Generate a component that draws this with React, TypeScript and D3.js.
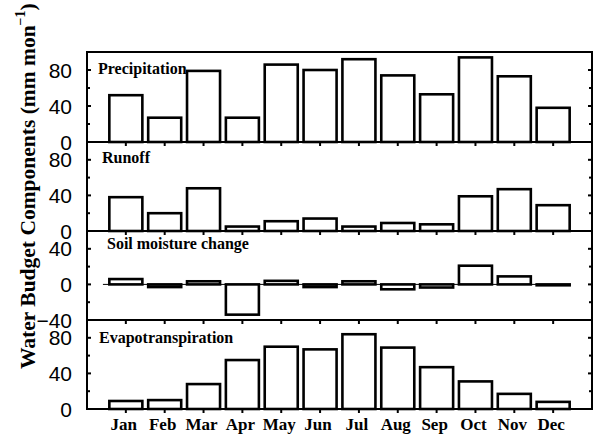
import React from "react";
import * as d3 from "d3";

const months = ["Jan", "Feb", "Mar", "Apr", "May", "Jun", "Jul", "Aug", "Sep", "Oct", "Nov", "Dec"];
const precipitation = [52, 27, 79, 27, 86, 80, 92, 74, 53, 94, 73, 38];
const runoff = [38, 20, 48, 5, 11, 14, 5, 9, 7.5, 39, 47, 29];
const soilMoisture = [6, -3, 3.5, -34, 4, -3, 3.5, -5.5, -3.5, 21, 9, -1];
const evapotranspiration = [9, 10, 28, 55, 70, 67, 84, 69, 47, 31, 17, 8];
const panelTitles = ["Precipitation", "Runoff", "Soil moisture change", "Evapotranspiration"];
const panelDomains: [number, number][] = [[0, 100], [0, 100], [-40, 60], [0, 100]];
const panelLabelTicks = [[0, 40, 80], [0, 40, 80], [-40, 0, 40], [0, 40, 80]];
const yLabel = "Water Budget Components (mm mon";

const W = 594;
const H = 434;
const left = 87;
const right = 592;
const bounds = [52, 142, 231, 320, 409];
const titlePos = [
  { dx: 11, dy: 22 },
  { dx: 15, dy: 21 },
  { dx: 20, dy: 18 },
  { dx: 12, dy: 23 },
];

export default function App() {
  const x = d3.scaleLinear().domain([0, 13]).range([left, right]);
  const step = x(1) - x(0);
  const barW = step * 0.85;
  const series = [precipitation, runoff, soilMoisture, evapotranspiration];
  const serif = "'Liberation Serif', 'Times New Roman', serif";
  const sans = "'Liberation Sans', Arial, sans-serif";

  return (
    <svg width={W} height={H} style={{ position: "absolute", left: 0, top: 0, background: "#fff" }}>
      {series.map((vals, p) => {
        const [d0, d1] = panelDomains[p];
        const y = d3.scaleLinear().domain([d0, d1]).range([bounds[p + 1], bounds[p]]);
        const allTicks = d3.range(d0, d1 + 0.001, 20);
        return (
          <g key={p}>
            {/* minor/major ticks left & right */}
            {allTicks.map((t) => {
              const major = panelLabelTicks[p].includes(t);
              const len = major ? 4 : 3;
              return (
                <g key={t}>
                  <line x1={left} x2={left + len} y1={y(t)} y2={y(t)} stroke="#000" strokeWidth={2} />
                  <line x1={right} x2={right - len} y1={y(t)} y2={y(t)} stroke="#000" strokeWidth={2} />
                </g>
              );
            })}
            {panelLabelTicks[p].map((t) => (
              <text
                key={"l" + t}
                x={72}
                y={y(t)}
                dy="0.36em"
                textAnchor="end"
                fontFamily={sans}
                fontSize={21}
                fill="#000"
              >
                {t < 0 ? "\u2212" + Math.abs(t) : t}
              </text>
            ))}
            {/* x ticks at bottom of panel */}
            {months.map((m, i) => (
              <line
                key={"xt" + m}
                x1={x(i + 1)}
                x2={x(i + 1)}
                y1={bounds[p + 1]}
                y2={bounds[p + 1] + 4}
                stroke="#000"
                strokeWidth={2}
              />
            ))}
            {p === 2 && (
              <line x1={x(0.41)} x2={x(12.43)} y1={y(0)} y2={y(0)} stroke="#000" strokeWidth={1} />
            )}
            {vals.map((v, i) => {
              const y0 = y(Math.max(0, v));
              const y1 = y(Math.min(0, v));
              return (
                <rect
                  key={"b" + i}
                  x={x(i + 1) - barW / 2}
                  y={y0}
                  width={barW}
                  height={Math.max(0.5, y1 - y0)}
                  fill="#fff"
                  stroke="#000"
                  strokeWidth={2.6}
                />
              );
            })}
            <text
              x={left + titlePos[p].dx}
              y={bounds[p] + titlePos[p].dy}
              fontFamily={serif}
              fontWeight="bold"
              fontSize={16}
              fill="#000"
            >
              {panelTitles[p]}
            </text>
          </g>
        );
      })}
      {/* frame and dividers */}
      <rect x={left} y={bounds[0]} width={right - left} height={bounds[4] - bounds[0]} fill="none" stroke="#000" strokeWidth={2} />
      {bounds.slice(1, 4).map((b) => (
        <line key={b} x1={left} x2={right} y1={b} y2={b} stroke="#000" strokeWidth={2} />
      ))}
      {months.map((m, i) => (
        <text
          key={m}
          x={x(i + 1) - 2}
          y={430}
          textAnchor="middle"
          fontFamily={serif}
          fontWeight="bold"
          fontSize={17}
          fill="#000"
        >
          {m}
        </text>
      ))}
      <text
        transform="translate(35,369) rotate(-90)"
        fontFamily={serif}
        fontWeight="bold"
        fontSize={21.5}
        fill="#000"
      >
        {yLabel}
        <tspan dy={-10} fontSize={14}>{"\u22121"}</tspan>
        <tspan dy={10}>)</tspan>
      </text>
    </svg>
  );
}
